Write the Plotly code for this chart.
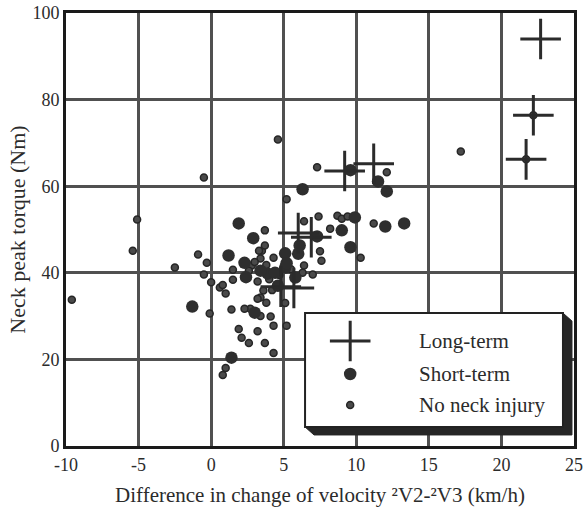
import plotly.graph_objects as go

# Long-term neck injury cases: velocity-change difference (km/h) vs neck peak torque (Nm)
long_x = [22.7, 22.2, 21.7, 9.2, 11.2, 6.0, 6.9, 4.8, 5.7]
long_y = [94.0, 76.4, 66.2, 63.5, 65.2, 49.2, 48.2, 36.8, 36.5]

# Short-term neck injury cases
short_x = [-1.3, 1.9, 2.9, 1.2, 2.3, 2.4, 3.9, 5.1, 5.8, 4.6, 5.1, 5.2, 6.1, 6.0,
           7.3, 6.3, 9.6, 11.5, 12.1, 9.9, 9.0, 9.6, 12.0, 13.3, 3.0, 1.4, 3.4, 4.4]
short_y = [32.2, 51.4, 48.0, 44.0, 42.3, 39.0, 39.8, 41.2, 38.9, 37.0, 44.5, 42.2, 46.3, 44.4,
           48.4, 59.3, 63.7, 61.1, 58.8, 52.8, 49.8, 45.9, 50.7, 51.4, 30.8, 20.4, 40.5, 40.0]

# Cases without neck injury
none_x = [4.6, -0.5, 17.2, -9.6, -5.4, -5.1, -2.5, -0.9, -0.3, -0.5, 0.0, 0.6, 0.8, 1.0,
          -0.1, 1.5, 1.5, 2.8, 3.4, 4.3, 3.5, 3.7, 3.7, 6.4, 7.4, 7.3, 12.1, 5.2, 8.2,
          8.7, 9.0, 9.4, 11.2, 10.3, 7.5, 7.6, 6.3, 7.0, 6.4, 3.6, 3.4, 3.8, 3.2, 2.7,
          3.4, 5.1, 5.2, 4.3, 1.9, 3.2, 1.4, 2.3, 2.1, 2.6, 3.7, 4.3, 4.1, 1.0, 0.8,
          3.3, 2.6, 3.0, 3.8, 4.0, 3.2, 4.7, 4.2, 5.5, 22.2, 21.7]
none_y = [70.8, 62.0, 68.0, 33.8, 45.1, 52.3, 41.2, 44.2, 42.3, 39.6, 37.8, 36.6, 37.2, 35.2,
          30.6, 40.7, 38.4, 41.7, 43.3, 43.5, 45.1, 46.3, 49.8, 51.9, 53.0, 64.4, 63.2, 57.0, 50.2,
          53.2, 52.5, 53.0, 51.4, 43.5, 45.0, 42.8, 40.0, 39.6, 41.7, 35.9, 34.3, 33.1, 34.0, 31.7,
          30.0, 33.0, 27.8, 27.8, 27.0, 26.5, 31.5, 31.7, 25.0, 23.8, 23.8, 21.5, 29.9, 18.0, 16.4,
          45.1, 40.5, 42.5, 41.8, 38.5, 38.0, 39.5, 36.0, 40.8, 76.4, 66.2]

x_ticks = [-10, -5, 0, 5, 10, 15, 20, 25]
y_ticks = [0, 20, 40, 60, 80, 100]
legend_labels = ["Long-term", "Short-term", "No neck injury"]

SERIF = "Liberation Serif, Times New Roman, serif"
INK = "#2b2b2b"

long_marker = dict(symbol="cross-thin", size=29, color=INK, line=dict(color=INK, width=3))
short_marker = dict(symbol="circle", size=12.5, color="#2e2e2e", line=dict(width=0))
none_marker = dict(symbol="circle", size=7, color="#4a4a4a", line=dict(color="#262626", width=1.5))

fig = go.Figure()
fig.add_trace(go.Scatter(x=none_x, y=none_y, mode="markers", marker=none_marker,
                         name=legend_labels[2], showlegend=False))
fig.add_trace(go.Scatter(x=short_x, y=short_y, mode="markers", marker=short_marker,
                         name=legend_labels[1], showlegend=False))
fig.add_trace(go.Scatter(x=long_x, y=long_y, mode="markers", marker=long_marker,
                         name=legend_labels[0], showlegend=False))

# Boxed key with an extruded shadow, placed inside the plot area (data units)
box_l, box_r, box_t, box_b = 6.47, 24.24, 30.7, 4.4
dx, dy = 0.62, 1.85
w, h = box_r - box_l, box_t - box_b
shadow = (f"M{box_l},{box_b} L{box_l + dx},{box_b - dy} L{box_r + dx},{box_b - dy} "
          f"L{box_r + dx},{box_t - dy} L{box_r},{box_t} Z")
fig.add_shape(type="path", path=shadow, xref="x", yref="y", layer="between",
              fillcolor="#262626", line=dict(color="#262626", width=1))
fig.add_shape(type="rect", x0=box_l, x1=box_r, y0=box_b, y1=box_t, xref="x", yref="y",
              layer="between", fillcolor="white", line=dict(color="#222", width=2))

row_frac = [0.245, 0.535, 0.807]
key_x = box_l + 0.175 * w
text_x = box_l + 0.435 * w
key_markers = [long_marker, short_marker, none_marker]
for lab, fr, mk in zip(legend_labels, row_frac, key_markers):
    yy = box_t - fr * h
    fig.add_trace(go.Scatter(x=[key_x], y=[yy], mode="markers", marker=mk,
                             showlegend=False, hoverinfo="skip"))
    fig.add_annotation(x=text_x, y=yy, xref="x", yref="y", text=lab, showarrow=False,
                       xanchor="left", yanchor="middle",
                       font=dict(family=SERIF, size=21, color=INK))

axis_common = dict(
    showgrid=True, gridcolor="#505050", gridwidth=2.5,
    showline=True, linecolor="#1a1a1a", linewidth=3, mirror=True,
    zeroline=False, ticks="", tickfont=dict(family=SERIF, size=18, color=INK),
    automargin=False,
)
fig.update_xaxes(range=[-10, 25], tickvals=x_ticks, ticktext=[str(v) for v in x_ticks],
                 title=dict(text="Difference in change of velocity \u00b2V2-\u00b2V3 (km/h)",
                            font=dict(family=SERIF, size=21, color=INK), standoff=14),
                 **axis_common)
fig.update_yaxes(range=[0, 100], tickvals=y_ticks, ticktext=[str(v) for v in y_ticks],
                 title=dict(text="Neck peak torque (Nm)",
                            font=dict(family=SERIF, size=22, color=INK), standoff=1),
                 **axis_common)

fig.update_layout(
    width=588, height=512,
    margin=dict(l=66, r=14, t=13, b=66),
    plot_bgcolor="white", paper_bgcolor="white",
    showlegend=False,
)

fig.write_html("out.html")
